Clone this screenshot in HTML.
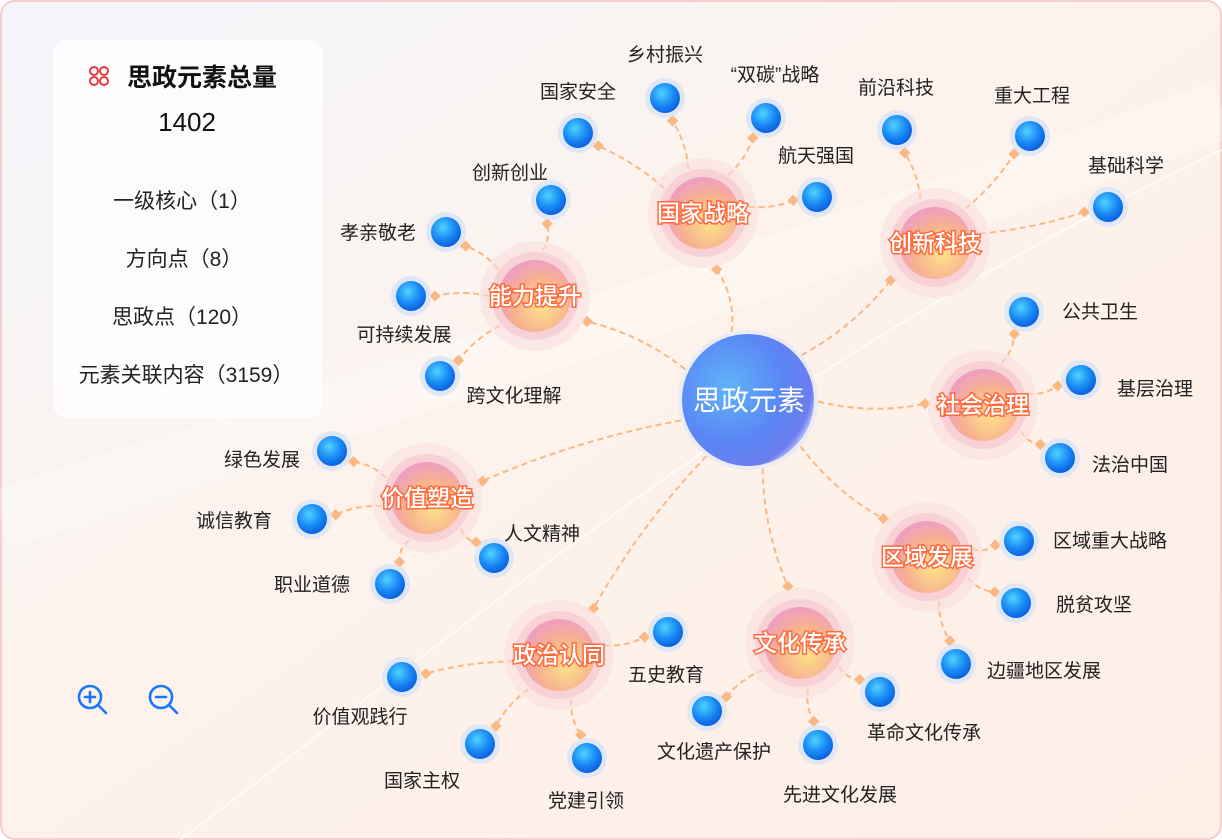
<!DOCTYPE html>
<html><head><meta charset="utf-8">
<style>
html,body{margin:0;padding:0;width:1222px;height:840px;overflow:hidden;background:#fff;}
svg{display:block;font-family:"Liberation Sans","Noto Sans CJK SC",sans-serif;}
.lf{font-size:19px;fill:#222;text-anchor:middle;}
.cat{font-size:23px;fill:#fff;stroke:#ff6a3d;stroke-width:3px;paint-order:stroke;text-anchor:middle;font-weight:500;}
.pt{font-size:21px;fill:#222;text-anchor:middle;}
</style></head><body>
<svg id="s" width="1222" height="840" viewBox="0 0 1222 840" xmlns="http://www.w3.org/2000/svg">
<defs>
<linearGradient id="bg" x1="0" y1="0" x2="1" y2="1">
<stop offset="0" stop-color="#f3f5fb"/><stop offset="0.45" stop-color="#fdf3ec"/><stop offset="1" stop-color="#fdeee6"/>
</linearGradient>
<radialGradient id="ctr" cx="0.35" cy="0.4" r="0.7">
<stop offset="0" stop-color="#5fb4f8"/><stop offset="0.6" stop-color="#5a86f5"/><stop offset="0.9" stop-color="#6d7df0"/><stop offset="1" stop-color="#c9d3fb"/>
</radialGradient>
<radialGradient id="catg" cx="0.6" cy="0.65" r="0.65">
<stop offset="0" stop-color="#fde38a"/><stop offset="0.6" stop-color="#f7b18f"/><stop offset="1" stop-color="#ee9fc0"/>
</radialGradient>
<radialGradient id="ball" cx="0.4" cy="0.35" r="0.65">
<stop offset="0" stop-color="#4fd3ff"/><stop offset="0.6" stop-color="#1a8af5"/><stop offset="1" stop-color="#0b62e0"/>
</radialGradient>
</defs>
<rect x="1" y="1" width="1220" height="838" rx="14" fill="url(#bg)" stroke="#f6cfcf" stroke-width="2"/>
<path d="M0 520 C300 420 600 330 1222 110" stroke="#fff" stroke-opacity="0.25" stroke-width="60" fill="none"/>
<path d="M180 840 C500 600 800 350 1222 150" stroke="#fff" stroke-width="2" fill="none" opacity="0.7"/>
<g id="lines"></g>
<g id="nodes"></g>
<!-- panel -->
<rect x="53" y="40" width="270" height="378" rx="14" fill="#fff" fill-opacity="0.75"/>
<g fill="none" stroke="#e43b3b" stroke-width="2">
<circle cx="94" cy="71" r="4"/><circle cx="104" cy="71" r="4"/><circle cx="94" cy="81" r="4"/><circle cx="104" cy="81" r="4"/>
</g>
<text x="202" y="86" font-size="25" font-weight="bold" fill="#111" text-anchor="middle">思政元素总量</text>
<text x="187" y="131" font-size="26" fill="#111" text-anchor="middle">1402</text>
<text class="pt" x="182" y="208">一级核心（1）</text>
<text class="pt" x="184" y="266">方向点（8）</text>
<text class="pt" x="182" y="324">思政点（120）</text>
<text class="pt" x="186" y="382">元素关联内容（3159）</text>
<g stroke="#1677ff" stroke-width="2.6" fill="none" stroke-linecap="round">
<circle cx="90" cy="697" r="11"/><line x1="98" y1="705" x2="106" y2="713"/><line x1="85" y1="697" x2="95" y2="697"/><line x1="90" y1="692" x2="90" y2="702"/>
<circle cx="161" cy="697" r="11"/><line x1="169" y1="705" x2="177" y2="713"/><line x1="156" y1="697" x2="166" y2="697"/>
</g>
<!-- center -->
<circle cx="748" cy="400" r="70" fill="#dfe6fb" opacity="0.6"/>
<circle cx="748" cy="400" r="66" fill="url(#ctr)"/>
<text x="749" y="410" font-size="28" fill="#fff" text-anchor="middle">思政元素</text>
<g id="catlabels">
<text class="cat" x="703" y="221">国家战略</text>
<text class="cat" x="535" y="304">能力提升</text>
<text class="cat" x="935" y="251">创新科技</text>
<text class="cat" x="983" y="413">社会治理</text>
<text class="cat" x="427" y="506">价值塑造</text>
<text class="cat" x="927" y="565">区域发展</text>
<text class="cat" x="559" y="663">政治认同</text>
<text class="cat" x="800" y="651">文化传承</text>
</g>
<g>
<text class="lf" x="578" y="98">国家安全</text>
<text class="lf" x="665" y="61">乡村振兴</text>
<text class="lf" x="775" y="81">“双碳”战略</text>
<text class="lf" x="816" y="162">航天强国</text>
<text class="lf" x="896" y="94">前沿科技</text>
<text class="lf" x="1032" y="102">重大工程</text>
<text class="lf" x="1126" y="172">基础科学</text>
<text class="lf" x="510" y="179">创新创业</text>
<text class="lf" x="378" y="239">孝亲敬老</text>
<text class="lf" x="404" y="341">可持续发展</text>
<text class="lf" x="514" y="402">跨文化理解</text>
<text class="lf" x="1100" y="318">公共卫生</text>
<text class="lf" x="1155" y="395">基层治理</text>
<text class="lf" x="1130" y="471">法治中国</text>
<text class="lf" x="262" y="466">绿色发展</text>
<text class="lf" x="234" y="527">诚信教育</text>
<text class="lf" x="542" y="540">人文精神</text>
<text class="lf" x="312" y="591">职业道德</text>
<text class="lf" x="1110" y="547">区域重大战略</text>
<text class="lf" x="1094" y="611">脱贫攻坚</text>
<text class="lf" x="1044" y="677">边疆地区发展</text>
<text class="lf" x="666" y="681">五史教育</text>
<text class="lf" x="360" y="723">价值观践行</text>
<text class="lf" x="422" y="787">国家主权</text>
<text class="lf" x="586" y="807">党建引领</text>
<text class="lf" x="714" y="758">文化遗产保护</text>
<text class="lf" x="924" y="739">革命文化传承</text>
<text class="lf" x="840" y="801">先进文化发展</text>
</g>
</svg>
<script>
var NS="http://www.w3.org/2000/svg";
var C=[748,400];
var cats={
"a":[703,213,[[578,133],[665,98],[766,118],[817,197]]],
"b":[535,296,[[551,200],[446,232],[411,296],[440,376]]],
"c":[935,243,[[897,130],[1030,136],[1108,207]]],
"d":[983,405,[[1024,312],[1081,380],[1060,458]]],
"e":[427,498,[[332,451],[312,519],[494,558],[390,584]]],
"f":[927,557,[[1019,541],[1016,603],[956,664]]],
"g":[559,655,[[668,632],[402,677],[480,744],[587,758]]],
"h":[800,643,[[880,692],[707,711],[818,745]]]
};
var L=document.getElementById("lines"),N=document.getElementById("nodes");
function el(t,a,p){var e=document.createElementNS(NS,t);for(var k in a)e.setAttribute(k,a[k]);p.appendChild(e);return e;}
function link(x1,y1,x2,y2,r1,r2,bend){
 var dx=x2-x1,dy=y2-y1,d=Math.sqrt(dx*dx+dy*dy),ux=dx/d,uy=dy/d;
 var sx=x1+ux*r1,sy=y1+uy*r1,ex=x2-ux*r2,ey=y2-uy*r2;
 var mx=(sx+ex)/2-uy*bend,my=(sy+ey)/2+ux*bend;
 el("path",{d:"M"+sx+" "+sy+" Q"+mx+" "+my+" "+ex+" "+ey,stroke:"#fbb882","stroke-width":2,"stroke-dasharray":"6 4",fill:"none"},L);
 el("rect",{x:ex-4,y:ey-4,width:8,height:8,fill:"#fbb882",transform:"rotate(45 "+ex+" "+ey+")"},L);
}
for(var k in cats){var c=cats[k];
 link(C[0],C[1],c[0],c[1],70,58,12);
 el("circle",{cx:c[0],cy:c[1],r:55,fill:"#f9dcdc",opacity:0.55},N);
 el("circle",{cx:c[0],cy:c[1],r:44,fill:"#f6c7d2",opacity:0.7},N);
 el("circle",{cx:c[0],cy:c[1],r:36,fill:"url(#catg)"},N);
 c[2].forEach(function(b){
  link(c[0],c[1],b[0],b[1],46,24,6);
  el("circle",{cx:b[0],cy:b[1],r:20,fill:"#dfe6f6"},N);
  el("circle",{cx:b[0],cy:b[1],r:15,fill:"url(#ball)"},N);
 });
}
</script>
</body></html>
